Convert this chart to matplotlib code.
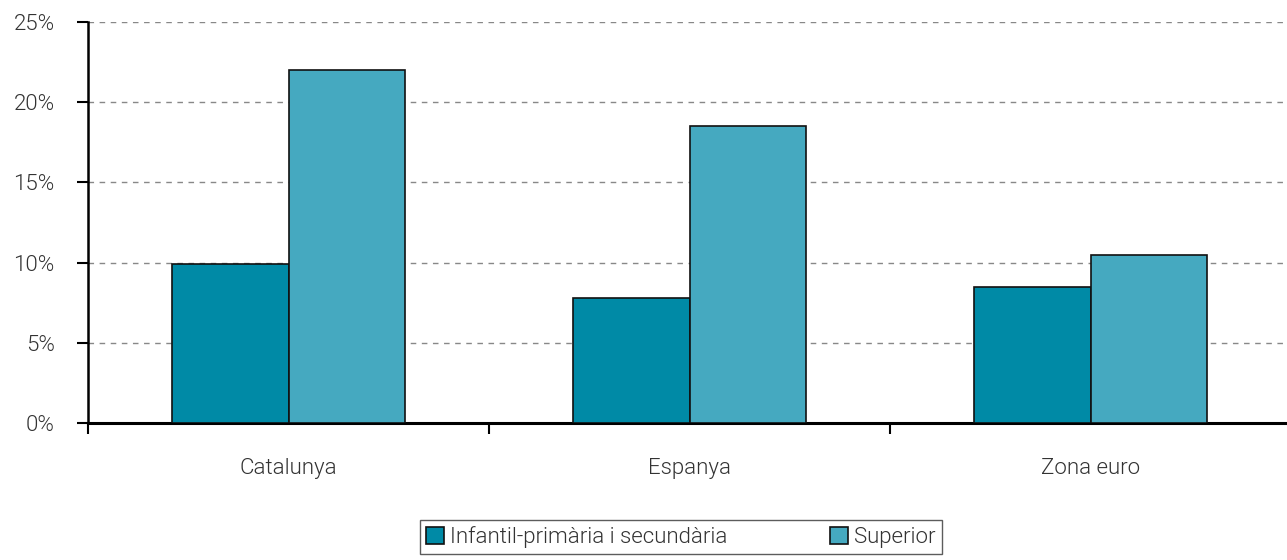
import matplotlib
matplotlib.use("Agg")
import matplotlib.pyplot as plt
import numpy as np
from matplotlib.ticker import FixedLocator, FuncFormatter

categories = ["Catalunya", "Espanya", "Zona euro"]
series_names = ["Infantil-primària i secundària", "Superior"]
infantil = [9.9, 7.8, 8.5]
superior = [22.0, 18.5, 10.5]
colors = ["#008aa6", "#45a9c0"]

plt.rcParams['font.family'] = ['Roboto', 'DejaVu Sans']
plt.rcParams['font.weight'] = 300

FS = 16

fig = plt.figure(figsize=(12.87, 5.6), dpi=100)
ax = fig.add_axes([88/1287, 1-423/560, (1291-88)/1287, (423-22)/560])

x = np.arange(len(categories))
w = 0.29
ax.bar(x - w/2, infantil, w, color=colors[0], edgecolor="#111111", linewidth=1.2, label=series_names[0], zorder=3)
ax.bar(x + w/2, superior, w, color=colors[1], edgecolor="#111111", linewidth=1.2, label=series_names[1], zorder=3)

ax.set_xlim(-0.5, 2.5)
ax.set_ylim(0, 25)
ax.set_yticks([0, 5, 10, 15, 20, 25])
ax.yaxis.set_major_formatter(FuncFormatter(lambda v, p: f"{int(v)}%"))
ax.yaxis.grid(True, linestyle=(0, (4, 4)), color="#888888", linewidth=1, zorder=0)
ax.set_axisbelow(True)

ax.xaxis.set_major_locator(FixedLocator([-0.5, 0.5, 1.5, 2.5]))
ax.xaxis.set_major_formatter(plt.NullFormatter())
ax.set_xticks(list(x), categories, minor=True)
ax.tick_params(axis='x', which='major', length=8, width=1.5, direction='out', color='black')
ax.tick_params(axis='x', which='minor', length=0, pad=25, labelsize=FS, labelcolor='#333333')
ax.tick_params(axis='y', length=8, width=1.5, direction='out', labelsize=FS, labelcolor='#333333', pad=16)

for s in ['top', 'right']:
    ax.spines[s].set_visible(False)
ax.spines['left'].set_linewidth(1.8)
ax.spines['bottom'].set_linewidth(2.2)

leg = fig.legend(loc='center', bbox_to_anchor=(681/1287, 1-537/560), ncol=2, frameon=True,
                 fancybox=False, edgecolor='#333333', fontsize=FS, handlelength=0.8,
                 handleheight=0.8, handletextpad=0.3, columnspacing=4.6, borderpad=0.25,
                 borderaxespad=0)
leg.get_frame().set_linewidth(1.0)
for t in leg.get_texts():
    t.set_color('#333333')

fig.savefig("out.png", dpi=100)
